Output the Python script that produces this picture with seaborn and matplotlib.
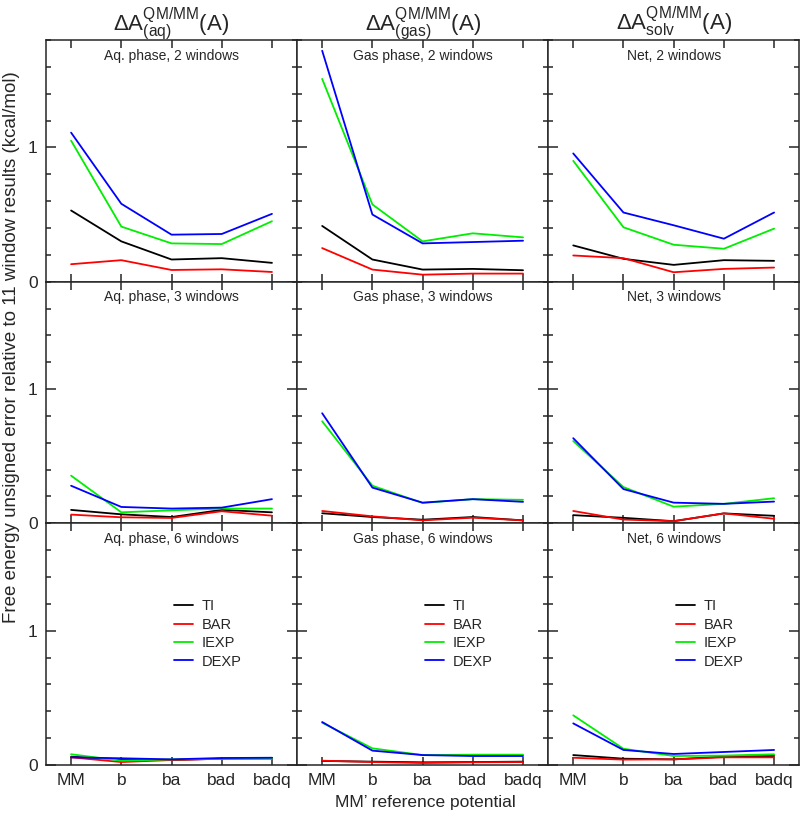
import numpy as np
import pandas as pd
import seaborn as sns
import matplotlib.pyplot as plt
from matplotlib.lines import Line2D
from matplotlib.ticker import MultipleLocator

# categories
refs = ['MM', 'b', 'ba', 'bad', 'badq']
methods = ['TI', 'BAR', 'IEXP', 'DEXP']
colors = ['black', '#ff0000', '#00ee00', '#0000ff']

phases = ['aq', 'gas', 'net']
phase_names = ['Aq. phase', 'Gas phase', 'Net']
windows = [2, 3, 6]
col_titles = [r'Δ$\mathrm{A}^{\mathrm{QM/MM}}_{\mathrm{(aq)}}$(A)',
              r'Δ$\mathrm{A}^{\mathrm{QM/MM}}_{\mathrm{(gas)}}$(A)',
              r'Δ$\mathrm{A}^{\mathrm{QM/MM}}_{\mathrm{solv}}$(A)']

# unsigned error (kcal/mol), rows = TI, BAR, IEXP, DEXP
aq_2win = [[0.53, 0.30, 0.165, 0.175, 0.14],
           [0.13, 0.16, 0.087, 0.092, 0.072],
           [1.05, 0.41, 0.285, 0.28, 0.45],
           [1.11, 0.58, 0.35, 0.355, 0.505]]
gas_2win = [[0.415, 0.165, 0.09, 0.095, 0.085],
            [0.25, 0.09, 0.052, 0.06, 0.06],
            [1.51, 0.575, 0.30, 0.36, 0.33],
            [1.72, 0.50, 0.285, 0.295, 0.305]]
net_2win = [[0.27, 0.17, 0.125, 0.16, 0.155],
            [0.195, 0.175, 0.07, 0.095, 0.105],
            [0.90, 0.405, 0.275, 0.245, 0.395],
            [0.955, 0.515, 0.42, 0.32, 0.515]]

aq_3win = [[0.10, 0.067, 0.047, 0.10, 0.082],
           [0.065, 0.045, 0.04, 0.09, 0.057],
           [0.355, 0.082, 0.097, 0.11, 0.11],
           [0.28, 0.122, 0.11, 0.117, 0.18]]
gas_3win = [[0.075, 0.047, 0.027, 0.047, 0.022],
            [0.092, 0.052, 0.022, 0.042, 0.022],
            [0.76, 0.28, 0.152, 0.18, 0.175],
            [0.82, 0.266, 0.154, 0.18, 0.16]]
net_3win = [[0.061, 0.041, 0.016, 0.074, 0.056],
            [0.092, 0.028, 0.016, 0.074, 0.034],
            [0.613, 0.27, 0.124, 0.145, 0.187],
            [0.634, 0.255, 0.154, 0.145, 0.162]]

aq_6win = [[0.062, 0.042, 0.037, 0.047, 0.052],
           [0.057, 0.022, 0.037, 0.047, 0.047],
           [0.08, 0.032, 0.042, 0.047, 0.047],
           [0.057, 0.05, 0.042, 0.052, 0.054]]
gas_6win = [[0.03, 0.025, 0.02, 0.022, 0.025],
            [0.032, 0.022, 0.015, 0.02, 0.022],
            [0.315, 0.124, 0.074, 0.077, 0.077],
            [0.32, 0.107, 0.074, 0.067, 0.067]]
net_6win = [[0.074, 0.047, 0.042, 0.062, 0.067],
            [0.054, 0.04, 0.042, 0.057, 0.057],
            [0.37, 0.121, 0.067, 0.07, 0.08],
            [0.31, 0.112, 0.082, 0.097, 0.112]]

panels = {('aq', 2): aq_2win, ('gas', 2): gas_2win, ('net', 2): net_2win,
          ('aq', 3): aq_3win, ('gas', 3): gas_3win, ('net', 3): net_3win,
          ('aq', 6): aq_6win, ('gas', 6): gas_6win, ('net', 6): net_6win}

# long table
rows = []
for (ph, w), vals in panels.items():
    for m, series in zip(methods, vals):
        for r, v in zip(refs, series):
            rows.append((ph, w, m, r, v))
df = pd.DataFrame(rows, columns=['phase', 'windows', 'method', 'ref', 'err'])

sns.set_style('ticks')
plt.rcParams['font.family'] = ['Liberation Sans', 'DejaVu Sans']
plt.rcParams['mathtext.fontset'] = 'custom'
plt.rcParams['mathtext.rm'] = 'Liberation Sans'
plt.rcParams['mathtext.it'] = 'Liberation Sans:italic'

fig = plt.figure(figsize=(8, 8.16), dpi=100)
gs = fig.add_gridspec(3, 3, wspace=0, hspace=0,
                      left=0.0575, right=0.999, top=0.951, bottom=0.0625)
palette = dict(zip(methods, colors))

for i, w in enumerate(windows):
    for j, ph in enumerate(phases):
        ax = fig.add_subplot(gs[i, j])
        sub = df[(df.phase == ph) & (df.windows == w)]
        sns.lineplot(data=sub, x='ref', y='err', hue='method', hue_order=methods,
                     palette=palette, sort=False, legend=False, lw=1.3, ax=ax)
        ax.set_xlim(-0.5, 4.5)
        ax.set_ylim(0, 1.8)
        ax.yaxis.set_major_locator(MultipleLocator(1))
        ax.yaxis.set_minor_locator(MultipleLocator(0.2))
        ax.tick_params(which='both', direction='in', top=True, right=True,
                       width=1.1, labelsize=12.5, pad=6)
        ax.tick_params(axis='y', which='major', length=7)
        ax.tick_params(axis='y', which='minor', length=3.5)
        ax.tick_params(axis='x', which='major', length=5.5)
        ax.tick_params(labelleft=(j == 0), labelbottom=(i == 2))
        ax.set_xlabel('')
        ax.set_ylabel('')
        for s in ax.spines.values():
            s.set_linewidth(1.1)
        ax.text(2, 0.935, f'{phase_names[j]}, {w} windows', fontsize=10,
                ha='center', va='center', transform=ax.get_xaxis_transform())
        if i == 0:
            ax.text(2, 1.041, col_titles[j], fontsize=16, ha='center',
                    va='baseline', transform=ax.get_xaxis_transform())
        if i == 2:
            handles = [Line2D([], [], color=c, lw=1.3) for c in colors]
            ax.legend(handles, methods, loc='upper left', frameon=False,
                      bbox_to_anchor=(2.05, 0.685),
                      bbox_transform=ax.get_xaxis_transform(),
                      fontsize=10.5, handlelength=1.3, handletextpad=0.6,
                      labelspacing=0.3, borderpad=0, borderaxespad=0)

fig.text(0.014, 0.575, 'Free energy unsigned error relative to 11 window results (kcal/mol)',
         rotation=90, ha='center', va='center', fontsize=13.5)
fig.text(0.532, 0.016, 'MM’ reference potential', ha='center', va='center', fontsize=12.5)

plt.savefig('out.png', dpi=100)
